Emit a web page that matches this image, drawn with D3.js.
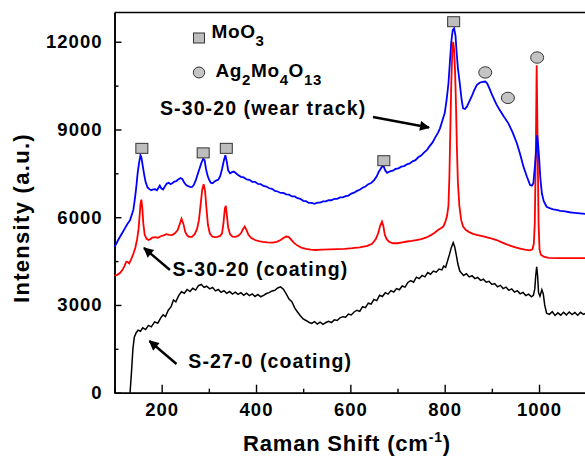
<!DOCTYPE html>
<html>
<head>
<meta charset="utf-8">
<script src="https://cdn.jsdelivr.net/npm/d3@7"></script>
<style>
  body { margin: 0; background: #fff; }
  text { font-family: "Liberation Sans", Arial, Helvetica, sans-serif; font-weight: bold; fill: #000; }
</style>
</head>
<body>
<svg id="chart" width="585" height="457"></svg>
<script>
// S-27-0 (coating), black
const coating270 = [
  [133, 0], [136, 700], [139, 1500], [142, 1900], [146, 2050], [150, 2140], [155, 2100], [160, 2220],
  [166, 2160], [172, 2300], [178, 2250], [185, 2420], [192, 2380], [198, 2560], [203, 2660], [208, 2600],
  [214, 2820], [220, 2940], [225, 3170], [230, 3110], [236, 3320], [242, 3450], [248, 3400], [254, 3530],
  [260, 3460], [266, 3570], [272, 3510], [278, 3660], [284, 3700], [290, 3600], [295, 3640], [302, 3550],
  [308, 3600], [314, 3480], [320, 3530], [326, 3430], [332, 3490], [338, 3400], [344, 3460], [350, 3370],
  [356, 3440], [362, 3360], [368, 3420], [374, 3330], [380, 3400], [386, 3320], [392, 3380], [398, 3290],
  [404, 3360], [410, 3280], [416, 3330], [422, 3390], [428, 3420], [434, 3480], [440, 3500], [446, 3580],
  [452, 3620], [458, 3540], [464, 3380], [470, 3200], [476, 3110], [482, 2900], [488, 2760], [494, 2630],
  [500, 2520], [506, 2470], [512, 2410], [518, 2370], [524, 2430], [530, 2350], [536, 2410], [542, 2340],
  [548, 2400], [554, 2440], [560, 2400], [566, 2490], [572, 2470], [578, 2560], [584, 2600], [590, 2580],
  [596, 2690], [602, 2660], [608, 2760], [614, 2820], [620, 2780], [626, 2940], [632, 2910], [638, 3060],
  [644, 3030], [650, 3190], [656, 3150], [662, 3330], [668, 3290], [674, 3420], [680, 3370], [686, 3490],
  [692, 3440], [698, 3560], [704, 3520], [710, 3650], [716, 3610], [722, 3770], [728, 3830], [734, 3780],
  [740, 3950], [746, 3900], [752, 4010], [758, 3960], [764, 4110], [770, 4050], [776, 4160], [782, 4120],
  [788, 4230], [794, 4200], [798, 4330], [802, 4290], [806, 4500], [810, 4720], [814, 4960], [818, 5130],
  [821, 5000], [824, 4760], [828, 4400], [832, 4160], [836, 4080], [840, 4010], [846, 4070], [852, 3960],
  [858, 4000], [864, 3900], [870, 3940], [876, 3840], [882, 3880], [888, 3780], [894, 3810], [900, 3700],
  [906, 3730], [912, 3620], [918, 3670], [924, 3560], [930, 3610], [936, 3500], [942, 3550], [948, 3440],
  [954, 3490], [960, 3380], [966, 3430], [972, 3320], [978, 3370], [984, 3280], [988, 3330], [991, 3550],
  [993, 4000], [995, 4300], [997, 4000], [999, 3420], [1002, 3300], [1006, 3520], [1009, 3380], [1012, 3000],
  [1016, 2720], [1022, 2680], [1028, 2770], [1034, 2640], [1040, 2730], [1046, 2650], [1052, 2750], [1058, 2660],
  [1064, 2760], [1070, 2670], [1076, 2740], [1082, 2650], [1088, 2750], [1094, 2680], [1100, 2720]
];

// S-30-20 (coating), red
const coating3020 = [
  [100, 4000], [106, 4030], [112, 4100], [117, 4200], [121, 4330], [125, 4480], [128, 4470], [131, 4420],
  [135, 4550], [140, 4750], [144, 4950], [148, 5250], [151, 5600], [153, 6000], [155, 6450], [157, 6600],
  [159, 6300], [161, 5800], [164, 5400], [168, 5260], [172, 5220], [176, 5250], [180, 5300], [186, 5320],
  [192, 5300], [198, 5350], [204, 5380], [210, 5420], [216, 5400], [222, 5390], [228, 5450], [234, 5560],
  [238, 5750], [242, 5950], [246, 5780], [250, 5500], [254, 5380], [258, 5330], [264, 5330], [270, 5420],
  [275, 5600], [279, 5900], [283, 6500], [286, 6950], [289, 7130], [292, 6900], [295, 6300], [298, 5750],
  [302, 5450], [307, 5340], [312, 5320], [318, 5330], [324, 5360], [328, 5450], [331, 5800], [334, 6300],
  [336, 6390], [338, 6100], [341, 5650], [345, 5420], [350, 5340], [356, 5330], [362, 5360], [368, 5450],
  [372, 5580], [376, 5680], [380, 5560], [384, 5400], [390, 5290], [398, 5220], [406, 5180], [414, 5160],
  [424, 5140], [434, 5130], [444, 5160], [452, 5220], [458, 5290], [464, 5340], [469, 5330], [474, 5240],
  [480, 5130], [488, 5030], [496, 4960], [506, 4920], [516, 4890], [526, 4880], [540, 4890], [556, 4900],
  [572, 4910], [588, 4920], [604, 4940], [620, 4970], [636, 5020], [646, 5090], [654, 5250], [659, 5450],
  [663, 5700], [667, 5850], [670, 5700], [673, 5400], [677, 5250], [682, 5160], [690, 5110], [700, 5110],
  [710, 5140], [720, 5170], [730, 5190], [740, 5220], [750, 5250], [760, 5300], [770, 5380], [778, 5460],
  [786, 5560], [792, 5620], [797, 5680], [801, 5820], [805, 6050], [808, 6400], [810, 7400], [812, 9000],
  [814, 10600], [816, 11600], [818, 12000], [820, 11700], [822, 11000], [824, 9800], [826, 8300], [828, 7200],
  [831, 6400], [835, 5900], [839, 5680], [845, 5560], [852, 5490], [860, 5430], [870, 5390], [880, 5350],
  [890, 5310], [900, 5270], [910, 5220], [920, 5150], [930, 5080], [940, 5020], [950, 4970], [960, 4930],
  [970, 4890], [980, 4870], [986, 4900], [989, 5100], [991, 5800], [993, 8000], [995, 11200], [997, 8500],
  [999, 5800], [1001, 4900], [1004, 4720], [1010, 4650], [1020, 4610], [1040, 4600], [1060, 4600],
  [1080, 4600], [1100, 4600]
];

// S-30-20 (wear track), blue
const wearTrack = [
  [100, 4990], [104, 5100], [108, 5230], [112, 5340], [117, 5480], [122, 5620], [127, 5760], [133, 5900],
  [137, 6100], [140, 6250], [143, 6600], [146, 7000], [149, 7500], [152, 7850], [155, 8120], [157, 8050],
  [160, 7750], [163, 7450], [166, 7200], [170, 7020], [174, 6960], [178, 6920], [182, 6950], [186, 6960],
  [190, 6920], [193, 7000], [196, 7080], [199, 6990], [203, 6950], [207, 7060], [211, 7150], [215, 7180],
  [219, 7130], [223, 7170], [227, 7220], [231, 7230], [235, 7290], [240, 7340], [244, 7300], [248, 7180],
  [252, 7100], [256, 7060], [260, 7040], [264, 7030], [268, 7100], [272, 7250], [276, 7450], [280, 7650],
  [284, 7850], [288, 8000], [291, 7950], [294, 7650], [297, 7440], [300, 7300], [304, 7180], [308, 7160],
  [312, 7220], [316, 7260], [320, 7280], [324, 7400], [328, 7650], [332, 7950], [335, 8120], [338, 7900],
  [341, 7600], [345, 7500], [349, 7540], [353, 7560], [357, 7510], [362, 7440], [368, 7380], [374, 7360],
  [380, 7290], [386, 7280], [392, 7210], [398, 7210], [404, 7140], [410, 7130], [416, 7070], [422, 7050],
  [428, 6990], [434, 6970], [440, 6900], [446, 6880], [452, 6830], [458, 6830], [464, 6780], [470, 6770],
  [476, 6710], [482, 6710], [488, 6650], [494, 6630], [500, 6560], [506, 6550], [512, 6490], [518, 6490],
  [524, 6460], [530, 6500], [536, 6500], [542, 6540], [548, 6540], [554, 6580], [560, 6580], [566, 6630],
  [572, 6630], [578, 6680], [584, 6680], [590, 6720], [596, 6740], [602, 6810], [608, 6840], [614, 6900],
  [620, 6940], [626, 7010], [632, 7050], [638, 7130], [644, 7170], [650, 7260], [656, 7400], [660, 7550],
  [664, 7650], [668, 7750], [671, 7720], [674, 7600], [678, 7520], [684, 7570], [690, 7590], [696, 7650],
  [702, 7670], [708, 7730], [714, 7750], [720, 7810], [726, 7840], [732, 7910], [738, 7950], [744, 8050],
  [750, 8110], [756, 8210], [762, 8290], [768, 8430], [774, 8550], [780, 8730], [786, 8890], [790, 9040],
  [795, 9300], [800, 9550], [804, 10000], [808, 10580], [811, 11300], [814, 12000], [817, 12400], [820, 12460],
  [823, 12200], [825, 11700], [828, 11100], [832, 10580], [836, 10000], [839, 9720], [843, 9700], [847, 9780],
  [852, 9950], [857, 10120], [862, 10320], [868, 10520], [874, 10600], [880, 10630], [886, 10640], [890, 10580],
  [895, 10400], [900, 10200], [905, 10020], [910, 9850], [917, 9660], [925, 9450], [935, 9210], [944, 8900],
  [953, 8530], [960, 8150], [967, 7730], [974, 7400], [981, 7100], [985, 7080], [988, 7160], [991, 7700],
  [994, 8300], [996, 8810], [998, 8500], [1000, 8070], [1003, 7300], [1006, 6820], [1010, 6550], [1016, 6360],
  [1024, 6300], [1030, 6270], [1037, 6250], [1045, 6220], [1055, 6200], [1065, 6170], [1075, 6150],
  [1087, 6130], [1100, 6110]
];

// peak markers
const moo3Peaks = [[158, 8355], [288, 8200], [337, 8355], [671, 7932], [819, 12685]];
const agPeaks = [[886, 10950], [934, 10080], [996, 11460]];

const xTicks = [200, 400, 600, 800, 1000];
const xMinor = [100, 300, 500, 700, 900, 1100];
const yTicks = [0, 3000, 6000, 9000, 12000];
const yMinor = [1500, 4500, 7500, 10500];

const svg = d3.select("#chart");
const plotLeft = 114.5, plotRight = 586.2, plotTop = 12.5, plotBottom = 392.7;

const x = d3.scaleLinear().domain([100, 1100]).range([plotLeft, plotRight]);
const y = d3.scaleLinear().domain([0, 13000]).range([plotBottom, plotTop]);

// axes
svg.append("g").attr("transform", "translate(0," + plotBottom + ")")
  .call(d3.axisBottom(x).tickValues(xTicks).tickFormat(d3.format("d"))
    .tickSize(-8).tickSizeOuter(0).tickPadding(10));
svg.append("g").attr("transform", "translate(0," + plotBottom + ")")
  .call(d3.axisBottom(x).tickValues(xMinor).tickSize(-4).tickSizeOuter(0).tickFormat(""));
svg.append("g").attr("transform", "translate(" + plotLeft + ",0)")
  .call(d3.axisLeft(y).tickValues(yTicks).tickFormat(d3.format("d"))
    .tickSize(-7).tickSizeOuter(0).tickPadding(12));
svg.append("g").attr("transform", "translate(" + plotLeft + ",0)")
  .call(d3.axisLeft(y).tickValues(yMinor).tickSize(-4).tickSizeOuter(0).tickFormat(""));

svg.selectAll(".domain").attr("stroke", "#000").attr("stroke-width", 1.6);
svg.selectAll(".tick line").attr("stroke", "#000").attr("stroke-width", 1.4);
svg.selectAll(".tick text").attr("font-family", null).attr("font-size", null)
  .style("font-size", "18.5px").style("letter-spacing", "1px");

svg.append("line")
  .attr("x1", plotLeft).attr("x2", 585).attr("y1", plotTop).attr("y2", plotTop)
  .attr("stroke", "#000").attr("stroke-width", 1.6);

// spectra
const line = d3.line().x((d) => x(d[0])).y((d) => y(d[1]));
svg.append("path").datum(coating270).attr("d", line)
  .attr("fill", "none").attr("stroke", "#000").attr("stroke-width", 1.5);
svg.append("path").datum(coating3020).attr("d", line)
  .attr("fill", "none").attr("stroke", "#ff0000").attr("stroke-width", 1.8);
svg.append("path").datum(wearTrack).attr("d", line)
  .attr("fill", "none").attr("stroke", "#0000ff").attr("stroke-width", 1.8);

// markers
svg.selectAll("rect.moo3").data(moo3Peaks).enter().append("rect")
  .attr("class", "moo3")
  .attr("x", (d) => x(d[0]) - 6).attr("y", (d) => y(d[1]) - 5)
  .attr("width", 12).attr("height", 10)
  .attr("fill", "#bdbdbd").attr("stroke", "#333").attr("stroke-width", 1);
svg.selectAll("ellipse.ag").data(agPeaks).enter().append("ellipse")
  .attr("class", "ag")
  .attr("cx", (d) => x(d[0])).attr("cy", (d) => y(d[1]))
  .attr("rx", 6.5).attr("ry", 5.7)
  .attr("fill", "#c4c4c4").attr("stroke", "#333").attr("stroke-width", 1);

// legend
svg.append("rect").attr("x", 193.5).attr("y", 33).attr("width", 11).attr("height", 10)
  .attr("fill", "#bdbdbd").attr("stroke", "#333").attr("stroke-width", 1);
svg.append("ellipse").attr("cx", 199).attr("cy", 72.5).attr("rx", 5.7).attr("ry", 5.5)
  .attr("fill", "#c4c4c4").attr("stroke", "#333").attr("stroke-width", 1);

const t1 = svg.append("text").attr("x", 211.5).attr("y", 38.3)
  .style("font-size", "19px").style("letter-spacing", "0.6px");
t1.append("tspan").text("MoO");
t1.append("tspan").attr("dy", 8).style("font-size", "15px").text("3");

const t2 = svg.append("text").attr("x", 215.5).attr("y", 77.3)
  .style("font-size", "19px").style("letter-spacing", "0.6px");
t2.append("tspan").text("Ag");
t2.append("tspan").attr("dy", 7.5).style("font-size", "15px").text("2");
t2.append("tspan").attr("dy", -7.5).text("Mo");
t2.append("tspan").attr("dy", 7.5).style("font-size", "15px").text("4");
t2.append("tspan").attr("dy", -7.5).text("O");
t2.append("tspan").attr("dy", 7.5).style("font-size", "15px").text("13");

// annotations
svg.append("defs").append("marker")
  .attr("id", "head").attr("viewBox", "0 0 10 10")
  .attr("refX", 9).attr("refY", 5)
  .attr("markerWidth", 13).attr("markerHeight", 10)
  .attr("markerUnits", "userSpaceOnUse")
  .attr("orient", "auto")
  .append("path").attr("d", "M0,0 L10,5 L0,10 Z").attr("fill", "#000");

const notes = [
  { label: "S-30-20 (wear track)", x: 160, y: 115, from: [373, 117], to: [429, 127.5] },
  { label: "S-30-20 (coating)", x: 172.5, y: 276, from: [170, 270], to: [144, 248] },
  { label: "S-27-0 (coating)", x: 188.3, y: 367.5, from: [176.5, 364], to: [149.5, 341] }
];
notes.forEach((n) => {
  svg.append("text").attr("x", n.x).attr("y", n.y)
    .style("font-size", "19.5px").style("letter-spacing", "1.1px").text(n.label);
  svg.append("line")
    .attr("x1", n.from[0]).attr("y1", n.from[1]).attr("x2", n.to[0]).attr("y2", n.to[1])
    .attr("stroke", "#000").attr("stroke-width", 2.4).attr("marker-end", "url(#head)");
});

// axis titles
const xTitle = svg.append("text").attr("x", 347).attr("y", 451).attr("text-anchor", "middle")
  .style("font-size", "22px").style("letter-spacing", "0.8px");
xTitle.append("tspan").text("Raman Shift (cm");
xTitle.append("tspan").attr("dy", -9).style("font-size", "14px").text("-1");
xTitle.append("tspan").attr("dy", 9).text(")");

svg.append("text")
  .attr("transform", "translate(29,218) rotate(-90)")
  .attr("text-anchor", "middle")
  .style("font-size", "22px").style("letter-spacing", "1.3px")
  .text("Intensity (a.u.)");
</script>
</body>
</html>
